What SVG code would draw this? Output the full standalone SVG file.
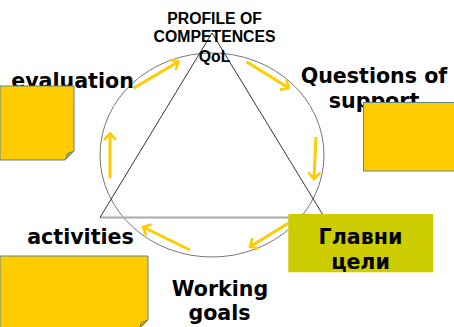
<svg xmlns="http://www.w3.org/2000/svg" width="454" height="327" viewBox="0 0 454 327">
<defs>
<style>
.lbl{font-family:"DejaVu Sans","Verdana",sans-serif;font-weight:bold;font-size:20.6px;fill:#000;text-anchor:middle}
.top{font-family:"Liberation Sans",Arial,sans-serif;font-weight:bold;font-size:15.8px;fill:#000;text-anchor:middle}
.note{fill:#ffcc00;stroke:#5e8585;stroke-width:1}
.fold{fill:#c9a300;stroke:#5e8585;stroke-width:1;stroke-linejoin:round}
.arr{fill:none;stroke:#ffcc00;stroke-width:3;marker-end:url(#ah)}
</style>
<marker id="ah" viewBox="0 0 10 14" refX="7.5" refY="7" markerWidth="10" markerHeight="14" markerUnits="userSpaceOnUse" orient="auto">
<path d="M1,1 L7.5,7 L1,13" fill="none" stroke="#ffcc00" stroke-width="2.6"/>
</marker>
</defs>
<rect width="454" height="327" fill="#fff"/>
<g id="cycle">
<ellipse cx="212" cy="155" rx="112" ry="102" fill="none" stroke="#777" stroke-width="1"/>
</g>
<g id="triangle">
<line x1="100" y1="217.5" x2="324.5" y2="217.5" stroke="#aaa" stroke-width="2"/>
<path d="M100,217.5 L212,33 L324.5,217.5" fill="none" stroke="#333" stroke-width="1"/>
</g>
<g id="profile">
<text class="top" x="214.6" y="24">PROFILE OF</text>
<text class="top" x="214.6" y="42.3">COMPETENCES</text>
<text class="top" x="214.6" y="61.5">QoL</text>
</g>
<g id="connectors">
<line class="arr" x1="133.3" y1="88.3" x2="178.3" y2="61.7"/>
<line class="arr" x1="246.7" y1="61.7" x2="288.7" y2="88"/>
<line class="arr" x1="316" y1="137" x2="314" y2="179"/>
<line class="arr" x1="288.3" y1="223.3" x2="250" y2="246.7"/>
<line class="arr" x1="190" y1="250" x2="143" y2="227"/>
<line class="arr" x1="110" y1="178.3" x2="110" y2="133.3"/>
</g>
<g id="evaluation">
<text class="lbl" x="72.5" y="88">evaluation</text>
<path class="note" d="M0,86 H74 V151 L65,160 H0 Z"/>
<path class="fold" d="M74,151 L65,160 L67.5,153.5 Z"/>
</g>
<g id="questions">
<text class="lbl" x="374" y="83">Questions of</text>
<text class="lbl" x="374" y="108">support</text>
<rect class="note" x="363.5" y="102.5" width="100" height="68.5"/>
</g>
<g id="activities">
<text class="lbl" x="80.5" y="244">activities</text>
<path class="note" d="M0,256 H148 V320 L139,329 H0 Z"/>
<path class="fold" d="M148,320 L139,329 L141.5,322.5 Z"/>
</g>
<g id="working">
<text class="lbl" x="220" y="296">Working</text>
<text class="lbl" x="219.5" y="320">goals</text>
</g>
<g id="glavni">
<rect x="288.3" y="214" width="144.7" height="58.3" fill="#cccc00"/>
<text class="lbl" x="360.5" y="244">Главни</text>
<text class="lbl" x="360.5" y="269">цели</text>
</g>
</svg>
